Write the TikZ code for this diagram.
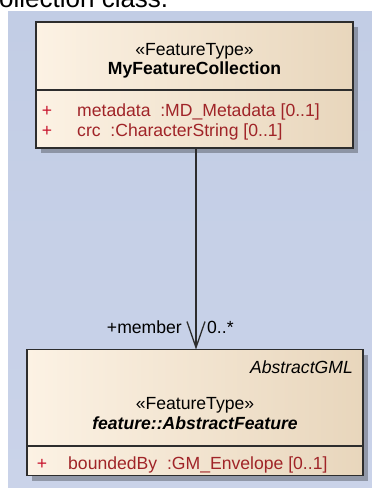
\documentclass[tikz,border=0pt]{standalone}
\usepackage{fontspec}
\setmainfont{Liberation Sans}
\usetikzlibrary{arrows.meta,shadows}
\definecolor{bgtop}{RGB}{194,205,229}
\definecolor{bgbot}{RGB}{202,211,233}
\definecolor{fillL}{RGB}{252,242,228}
\definecolor{fillR}{RGB}{232,214,188}
\definecolor{borderc}{RGB}{45,45,45}
\definecolor{attrc}{RGB}{160,36,40}
\definecolor{plusc}{RGB}{200,20,45}
\newcommand{\umlfont}{\fontsize{17.6}{21}\selectfont}
\tikzset{
  classbox/.style={draw=borderc, line width=1.8pt, left color=fillL, right color=fillR,
    inner sep=0pt, outer sep=0pt,
    drop shadow={shadow xshift=5pt, shadow yshift=-5pt, opacity=.28, fill=black}},
  divider/.style={draw=borderc, line width=1.6pt},
  txt/.style={font=\umlfont, inner sep=0pt, anchor=base},
  attr/.style={txt, text=attrc, anchor=base west},
  plus/.style={txt, text=plusc},
  assoc/.style={draw=borderc, line width=1.3pt, -{Straight Barb[length=26pt,width=18pt,line width=1.3pt]}},
}
\begin{document}
\begin{tikzpicture}[x=1pt,y=-1pt]
\useasboundingbox (0,0) rectangle (372,488);
% background
\shade[top color=bgtop, bottom color=bgbot] (8,11) rectangle (372,488);
% cut-off caption text (cropped in the reference as well)
\node[font=\fontsize{26}{30}\selectfont, inner sep=0pt, anchor=base west] (cap) at (-1,7) {ollection class.};
% top class
\node[classbox, minimum width=317pt, minimum height=126pt] (fc) at (194.5,85) {};
\draw[divider] (fc.west |- 0,90) -- (fc.east |- 0,90);
\node[txt] (fcst) at (194.5,55) {«FeatureType»};
\node[txt, font=\umlfont\bfseries] (fcname) at (194.5,74) {MyFeatureCollection};
\node[plus] (p1) at (47,116) {+};
\node[attr] (a1) at (77,116) {metadata\ \ :MD\_Metadata [0..1]};
\node[plus] (p2) at (47,136) {+};
\node[attr] (a2) at (77,136) {crc\ \ :CharacterString [0..1]};
% bottom class
\node[classbox, minimum width=336pt, minimum height=126pt] (af) at (195,412.5) {};
\draw[divider] (af.west |- 0,446) -- (af.east |- 0,446);
\node[txt, anchor=base east, font=\umlfont\itshape] (pkg) at (353,373) {AbstractGML};
\node[txt] (afst) at (195,409) {«FeatureType»};
\node[txt, font=\umlfont\bfseries\itshape] (afname) at (195,429) {feature::AbstractFeature};
\node[plus] (p3) at (42,469) {+};
\node[attr] (a3) at (68,469) {boundedBy\ \ :GM\_Envelope [0..1]};
% association
\coordinate (src) at (fc.south -| 196,0);
\coordinate (dst) at (af.north -| 196,0);
\draw[assoc] (src) -- (dst);
\node[txt, anchor=base east] (role) at (182,333) {+member};
\node[txt, anchor=base west] (mult) at (207,333) {0..*};
\end{tikzpicture}
\end{document}
